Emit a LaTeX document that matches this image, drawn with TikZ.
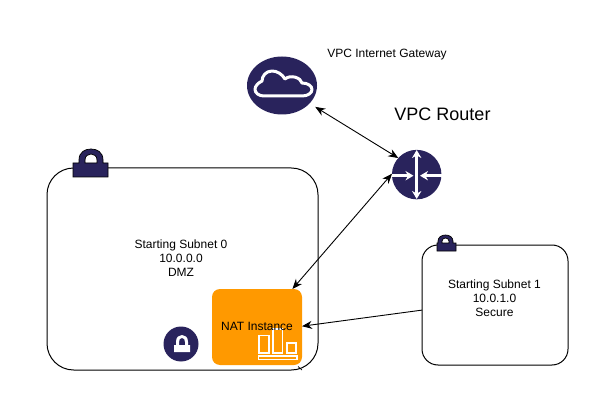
\documentclass[tikz,border=0pt]{standalone}
\usepackage{fontspec}
\setmainfont{Liberation Sans}
\usetikzlibrary{arrows.meta,shapes.geometric}
\definecolor{navy}{HTML}{29235C}
\definecolor{natorange}{HTML}{FF9900}
\newcommand{\pxu}{0.75pt}
\tikzset{
  subnetbox/.style={draw=black,line width=1*\pxu,fill=white,inner sep=0pt,outer sep=0pt},
  smalltext/.style={align=center,inner sep=0pt,font=\fontsize{9}{10.5}\selectfont,text=black},
  bigtext/.style={inner sep=0pt,font=\fontsize{13.5}{16}\selectfont,text=black},
  badge/.style={fill=navy,draw=none,inner sep=0pt,outer sep=0pt},
  link/.style={draw=black,line width=0.9*\pxu,{Stealth[length=7.5pt,width=6pt]}-{Stealth[length=7.5pt,width=6pt]}},
  oneway/.style={draw=black,line width=0.9*\pxu,-{Stealth[length=7.5pt,width=6pt]}},
  whiteline/.style={draw=white,line width=3*\pxu},
  whitearrow/.style={draw=white,line width=2.6*\pxu,-{Stealth[length=6pt,width=7pt]}},
  whitedouble/.style={draw=white,line width=2.6*\pxu,{Stealth[length=6pt,width=7pt]}-{Stealth[length=6pt,width=7pt]}},
  chartline/.style={draw=white,line width=1.2*\pxu},
  lockdark/.style={fill=navy,draw=black,line width=0.7*\pxu,even odd rule},
}
\begin{document}
\begin{tikzpicture}[x=0.75pt,y=-0.75pt]
\useasboundingbox[fill=white] (0,0) rectangle (614,417);
% subnets
\node[subnetbox,rounded corners=20pt,minimum width=271*\pxu,minimum height=202*\pxu] (subnetA) at (182.5,269) {};
\node[subnetbox,rounded corners=12pt,minimum width=146*\pxu,minimum height=120*\pxu] (subnetB) at (495,305) {};
\draw[black,line width=0.7*\pxu] (298,366.5) -- (302,370);
% big lock
\path[lockdark] (79,163) -- (79,160) .. controls (79,152) and (85,149) .. (91,149) .. controls (97,149) and (103,152) .. (103,160) -- (103,163) -- (108,163) -- (108,177) -- (73,177) -- (73,163) -- cycle
  (85,163) -- (97,163) -- (97,160) .. controls (97,156) and (94,154) .. (91,154) .. controls (88,154) and (85,156) .. (85,160) -- cycle;
% small lock
\path[lockdark] (438,243) -- (438,241) .. controls (438,237) and (442,235) .. (445.5,235) .. controls (449,235) and (453,237) .. (453,241) -- (453,243) -- (456,243) -- (456,251) -- (437,251) -- (437,243) -- cycle
  (442,243) -- (449,243) -- (449,241) .. controls (449,239) and (447,238) .. (445.5,238) .. controls (444,238) and (442,239) .. (442,241) -- cycle;
% NAT
\node[rounded corners=6pt,fill=natorange,draw=none,minimum width=90*\pxu,minimum height=76*\pxu,inner sep=0pt,outer sep=0pt] (nat) at (257,327) {};
\draw[chartline] (258.5,356) rectangle (297,359.5);
\draw[chartline] (259,335.5) rectangle (269,353);
\draw[chartline] (273,329) rectangle (282.5,353);
\draw[chartline] (287,343) rectangle (296,353);
\node[smalltext] (natlabel) at (257,326) {NAT Instance};
% lock badge
\node[badge,circle,minimum size=35*\pxu] (lockbadge) at (181,344) {};
\path[fill=white,even odd rule] (176,345) -- (176,342) .. controls (176,337) and (179,335) .. (182,335) .. controls (185,335) and (188,337) .. (188,342) -- (188,345) -- (190,345) -- (190,352) -- (174,352) -- (174,345) -- cycle
  (179,345) -- (185,345) -- (185,342) .. controls (185,339.5) and (184,338) .. (182,338) .. controls (180,338) and (179,339.5) .. (179,342) -- cycle;
% gateway
\node[badge,ellipse,minimum width=70*\pxu,minimum height=58*\pxu] (gateway) at (282,85.5) {};
\draw[whiteline,line join=round] (264,96) -- (302,96) .. controls (308,96) and (312,93) .. (312,89.5) .. controls (312,86) and (308,83) .. (302,83)
  .. controls (301,78) and (291,74) .. (285,79) .. controls (282,74) and (277,71) .. (272,71) .. controls (266,71) and (262,76) .. (262,81)
  .. controls (258,83) and (255,86) .. (255,89.5) .. controls (255,93) and (259,96) .. (264,96) -- cycle;
% router
\node[badge,circle,minimum size=49.5*\pxu] (router) at (416.7,174.6) {};
\draw[whitedouble] (416.7,150) -- (416.7,199);
\draw[whitearrow] (392,175.7) -- (413.5,175.7);
\draw[whitearrow] (441.5,175.7) -- (420,175.7);
% connectors
\draw[link,shorten <=5pt] (gateway.-33) -- (router.138);
\draw[link] (nat.47) -- (router.178);
\draw[oneway] (subnetB.184) -- (nat.1);
% labels
\node[smalltext] (gwlabel) at (387,55) {VPC Internet Gateway};
\node[bigtext] (routerlabel) at (442.5,114) {VPC Router};
\node[smalltext] (labelA) at (181,258) {Starting Subnet 0\\10.0.0.0\\DMZ};
\node[smalltext] (labelB) at (494.5,298.5) {Starting Subnet 1\\10.0.1.0\\Secure};
\end{tikzpicture}
\end{document}
